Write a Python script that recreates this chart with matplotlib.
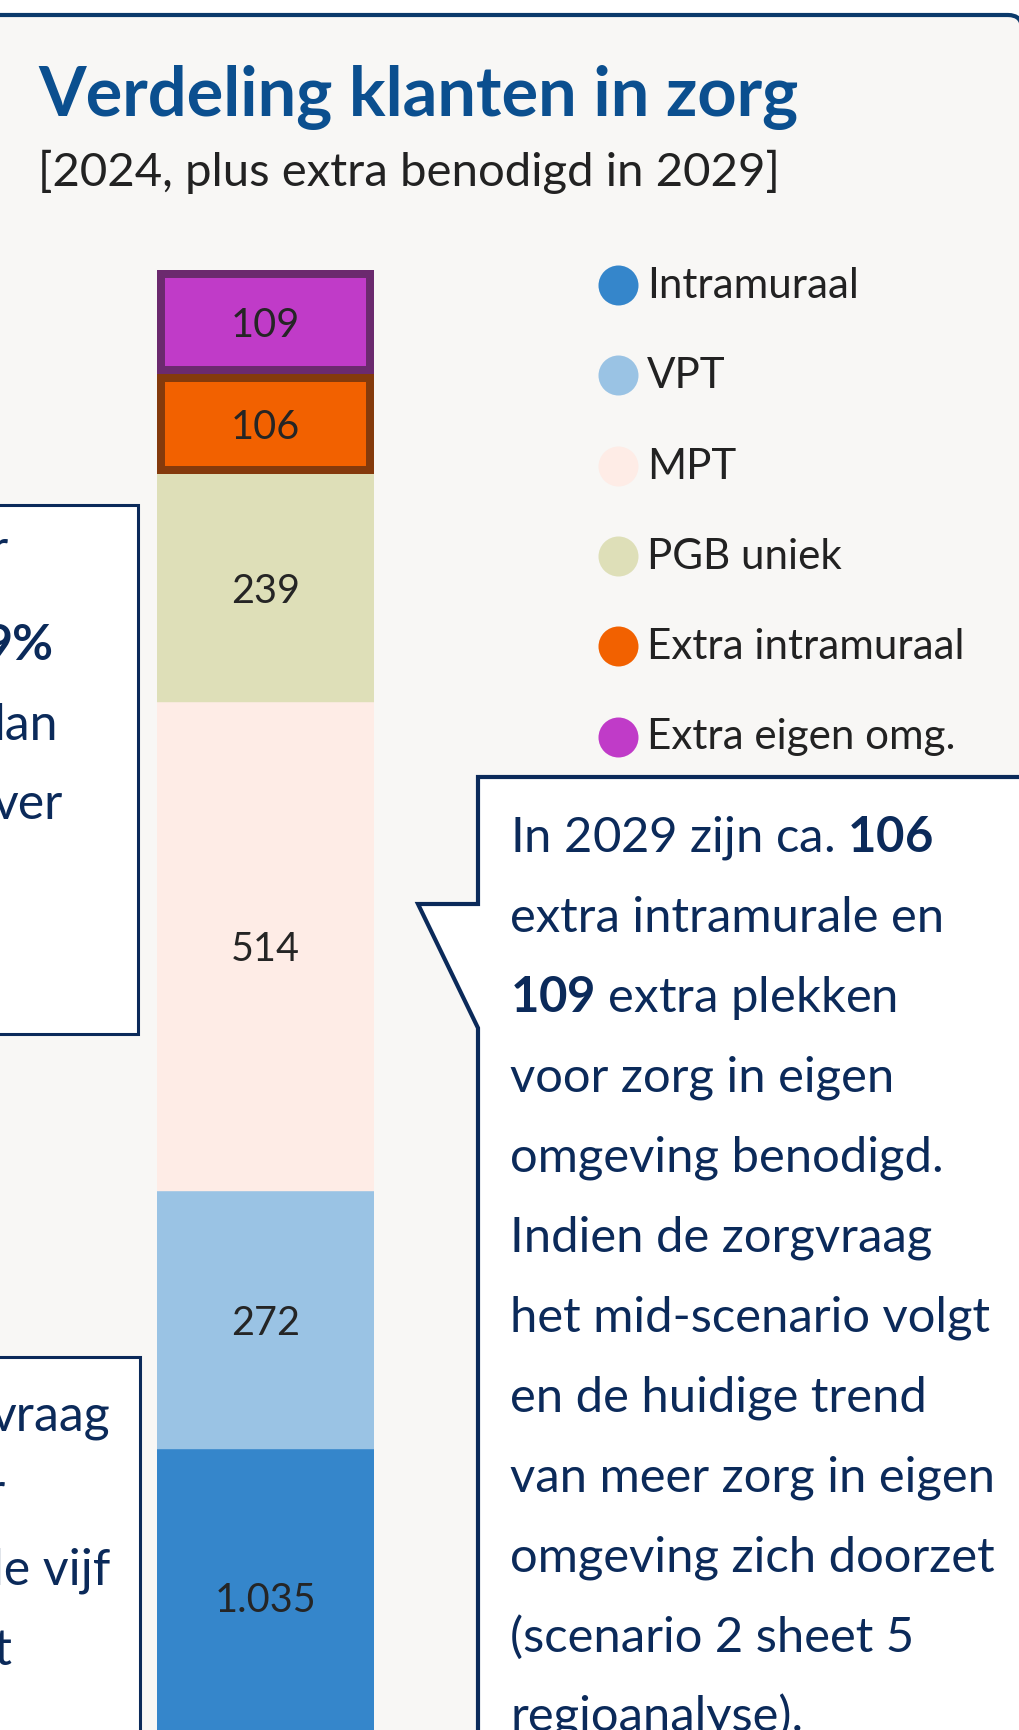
import numpy as np
import matplotlib
matplotlib.use("Agg")
import matplotlib.pyplot as plt
from matplotlib.patches import FancyBboxPatch, Rectangle, Polygon

# %% data
categories = ["Intramuraal", "VPT", "MPT", "PGB uniek", "Extra intramuraal", "Extra eigen omg."]
values = [1035, 272, 514, 239, 106, 109]
value_labels = ["1.035", "272", "514", "239", "106", "109"]
colors = ["#3586cb", "#9ac3e4", "#feece6", "#dedfb8", "#f26100", "#c03bc8"]
edge_colors = [None, None, None, None, "#843a0c", "#6b2a6e"]

title = "Verdeling klanten in zorg"
subtitle = "[2024, plus extra benodigd in 2029]"
callout_lines = [
    "In 2029 zijn ca. $\\mathbf{106}$",
    "extra intramurale en",
    "$\\mathbf{109}$ extra plekken",
    "voor zorg in eigen",
    "omgeving benodigd.",
    "Indien de zorgvraag",
    "het mid-scenario volgt",
    "en de huidige trend",
    "van meer zorg in eigen",
    "omgeving zich doorzet",
    "(scenario 2 sheet 5",
    "regioanalyse).",
]
# fragments of the cropped text boxes on the left
left_box1 = [("r", False), ("9%", True), ("lan", False), ("ver", False)]
left_box2 = [("vraag", False), ("r", False), ("le vijf", False), ("t", False)]

# %% style
plt.rcParams['font.family'] = ['Lato', 'DejaVu Sans']
plt.rcParams['mathtext.fontset'] = 'custom'
plt.rcParams['mathtext.rm'] = 'Lato'
plt.rcParams['mathtext.bf'] = 'Lato:bold'

NAVY = "#0b2a5a"
W, H, DPI = 1019, 1730, 100

fig = plt.figure(figsize=(W / DPI, H / DPI), dpi=DPI, facecolor="white")

# background axes in pixel coordinates
bg = fig.add_axes([0, 0, 1, 1])
bg.set_xlim(0, W)
bg.set_ylim(H, 0)
bg.axis("off")

bg.add_patch(FancyBboxPatch((-60, 15), W + 63, H + 100,
                            boxstyle="round,pad=0,rounding_size=14",
                            facecolor="#f8f7f5", edgecolor="#0b3a6b", linewidth=3))

bg.text(38, 116, title, fontsize=49.3, fontweight="bold", color="#0b4f8f", va="baseline")
bg.text(38, 186, subtitle, fontsize=34, color="#222222", va="baseline")

# left (cropped) boxes
bg.add_patch(Rectangle((-20, 505), 158, 529, facecolor="white", edgecolor=NAVY, linewidth=2.2))
bg.add_patch(Rectangle((-20, 1357), 160, 500, facecolor="white", edgecolor=NAVY, linewidth=2.2))
for (txt, bold), x, y in zip(left_box1, [8, 54, 58, 63], [565, 660, 740, 819]):
    bg.text(x, y, txt, fontsize=36, color=NAVY, ha="right", va="baseline",
            fontweight="bold" if bold else "normal")
for (txt, bold), x, y in zip(left_box2, [110, 5, 110, 12], [1430, 1508, 1585, 1665]):
    bg.text(x, y, txt, fontsize=36, color=NAVY, ha="right", va="baseline",
            fontweight="bold" if bold else "normal")

# callout box with pointer
bg.add_patch(Polygon([(478, 777), (1060, 777), (1060, 1800), (478, 1800),
                      (478, 1028), (418, 904), (478, 904)], closed=True,
                     facecolor="white", edgecolor=NAVY, linewidth=3, joinstyle="miter"))
for i, line in enumerate(callout_lines):
    bg.text(510, 852 + 80 * i, line, fontsize=35.3, color=NAVY, va="baseline")

# legend
for i, (lab, col) in enumerate(zip(categories, colors)):
    y = 285 + 90.3 * i
    bg.scatter([618], [y], s=(40 * 72 / DPI) ** 2, color=col, linewidths=0, zorder=3)
    bg.text(647, y + 1, lab, fontsize=30.3, color="#222222", va="center")

# %% stacked bar
total = sum(values)
y_low = 724
top_px, bot_px = 270, 1745
bax = fig.add_axes([157 / W, 1 - bot_px / H, (374 - 157) / W, (bot_px - top_px) / H])
bax.set_xlim(-0.5, 0.5)
bax.set_ylim(y_low, total)
bax.axis("off")
bax.patch.set_alpha(0)

bottoms = np.cumsum([0] + values[:-1])
for v, b, c, ec, lab in zip(values, bottoms, colors, edge_colors, value_labels):
    bars = bax.bar(0, v, bottom=b, width=1.0, color=c,
                   edgecolor=ec if ec else c, linewidth=11.5 if ec else 0.3)
    if ec:
        p = bars[0]
        p.set_clip_path(p)
    yc = (max(b, y_low) + b + v) / 2
    bax.text(0, yc, lab, ha="center", va="center_baseline", fontsize=28.5, color="#252525")

fig.savefig("out.png", dpi=DPI, facecolor="white")
